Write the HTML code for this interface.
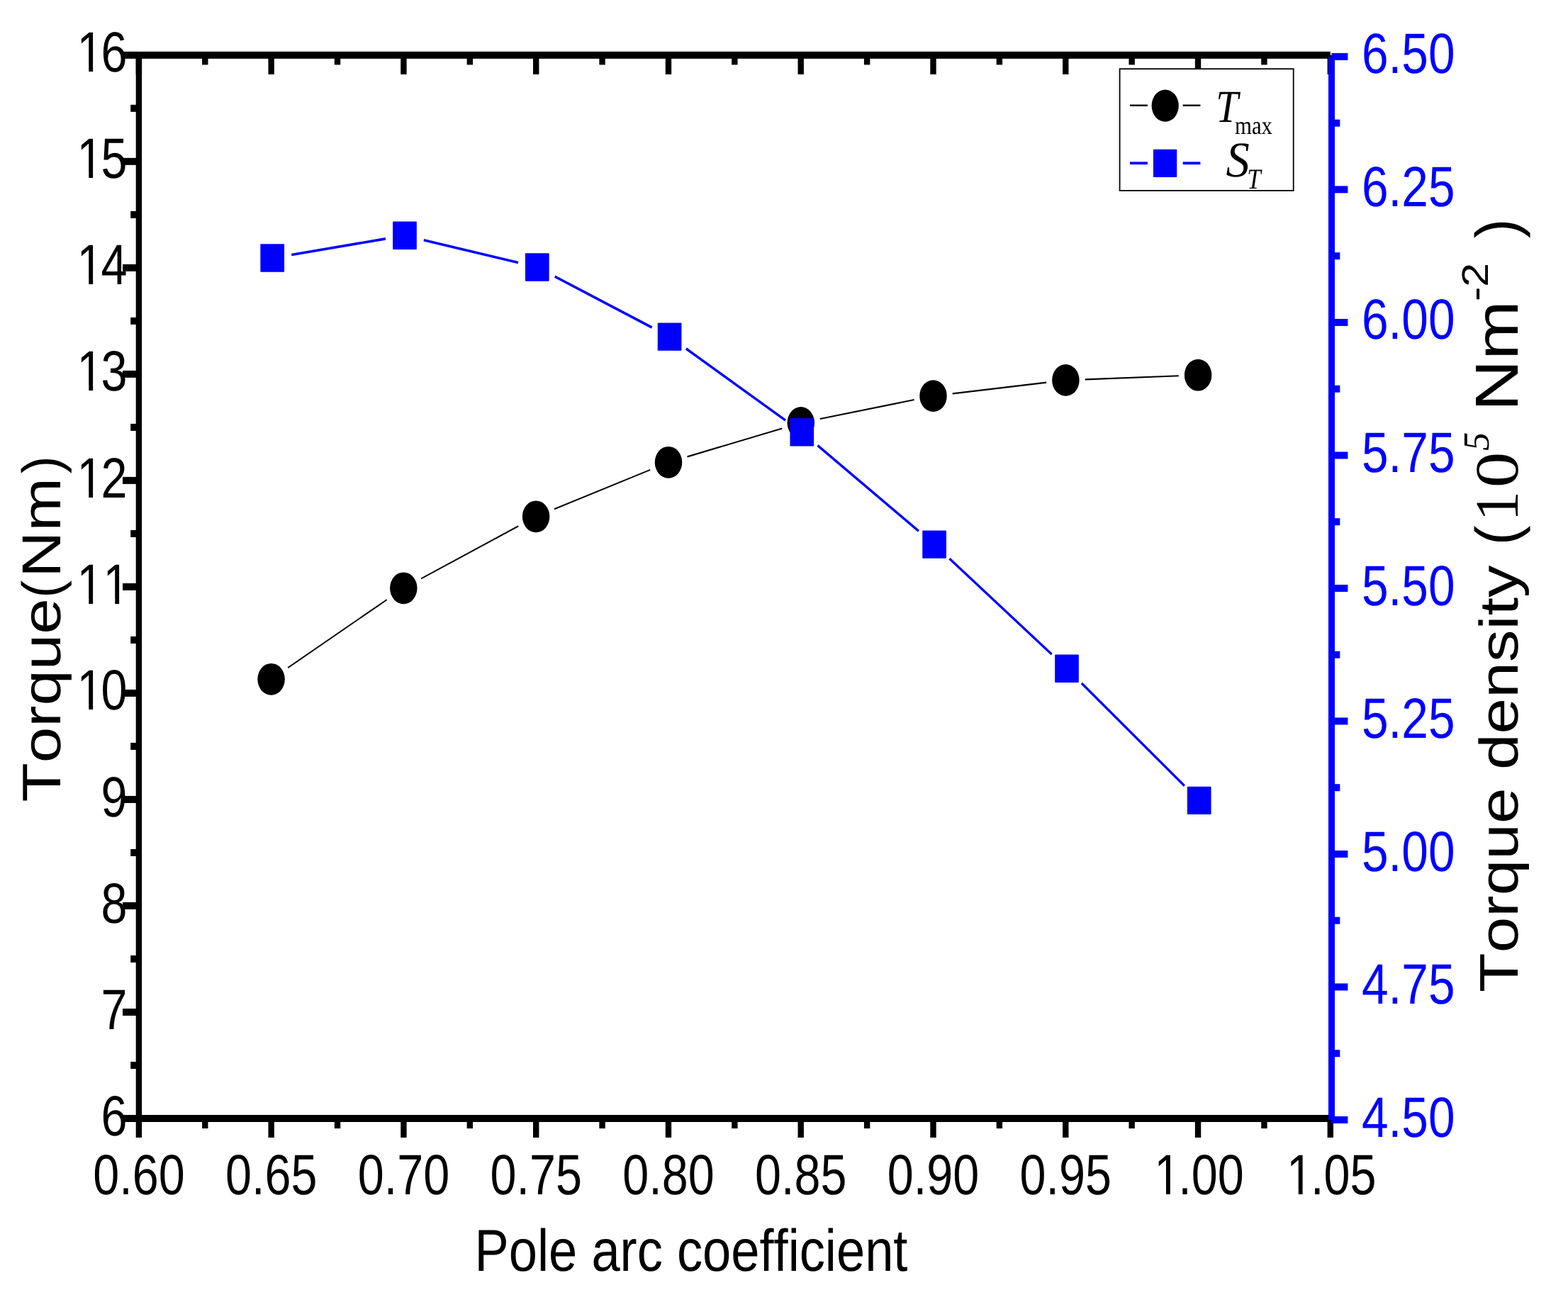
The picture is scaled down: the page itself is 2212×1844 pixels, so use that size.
<!DOCTYPE html>
<html lang="en">
<head>
<meta charset="utf-8">
<title>Torque and torque density versus pole arc coefficient</title>
<style>
html, body { margin: 0; padding: 0; background: #ffffff; }
body { width: 2212px; height: 1844px; overflow: hidden; }
svg { display: block; }
text { white-space: pre; font-kerning: none; font-variant-ligatures: none; text-rendering: geometricPrecision; }
</style>
</head>
<body>
<svg width="2212" height="1844" viewBox="0 0 2212 1844" role="img" aria-label="Torque and torque density versus pole arc coefficient">
<rect x="0" y="0" width="2212" height="1844" fill="#ffffff"/>
<defs>
<clipPath id="one0" clipPathUnits="userSpaceOnUse"><rect x="-10" y="-100" width="410" height="93.4"/><rect x="-10" y="-7.6" width="17.65" height="47.6"/><rect x="23.73" y="-7.6" width="7.09" height="47.6"/><rect x="46.27" y="-7.6" width="353.73" height="47.6"/></clipPath>
<clipPath id="one1" clipPathUnits="userSpaceOnUse"><rect x="-10" y="-100" width="410" height="93.4"/><rect x="-10" y="-7.6" width="17.65" height="47.6"/><rect x="23.73" y="-7.6" width="7.09" height="47.6"/><rect x="46.27" y="-7.6" width="6.04" height="47.6"/><rect x="68.39" y="-7.6" width="7.09" height="47.6"/><rect x="90.93" y="-7.6" width="309.07" height="47.6"/></clipPath>
</defs>
<g id="frame">
<rect x="195.9" y="72.8" width="1680.9" height="10" fill="#000"/>
<rect x="195.9" y="1573" width="1680.9" height="10" fill="#000"/>
<rect x="191.7" y="77.8" width="8.4" height="1500.2" fill="#000"/>
<rect x="191.7" y="77.8" width="8.4" height="27.1" fill="#000"/>
<rect x="191.7" y="1578" width="8.4" height="27" fill="#000"/>
<rect x="285.08" y="77.8" width="8.4" height="13.6" fill="#000"/>
<rect x="285.08" y="1578" width="8.4" height="14.1" fill="#000"/>
<rect x="378.47" y="77.8" width="8.4" height="27.1" fill="#000"/>
<rect x="378.47" y="1578" width="8.4" height="27" fill="#000"/>
<rect x="471.85" y="77.8" width="8.4" height="13.6" fill="#000"/>
<rect x="471.85" y="1578" width="8.4" height="14.1" fill="#000"/>
<rect x="565.23" y="77.8" width="8.4" height="27.1" fill="#000"/>
<rect x="565.23" y="1578" width="8.4" height="27" fill="#000"/>
<rect x="658.62" y="77.8" width="8.4" height="13.6" fill="#000"/>
<rect x="658.62" y="1578" width="8.4" height="14.1" fill="#000"/>
<rect x="752" y="77.8" width="8.4" height="27.1" fill="#000"/>
<rect x="752" y="1578" width="8.4" height="27" fill="#000"/>
<rect x="845.38" y="77.8" width="8.4" height="13.6" fill="#000"/>
<rect x="845.38" y="1578" width="8.4" height="14.1" fill="#000"/>
<rect x="938.77" y="77.8" width="8.4" height="27.1" fill="#000"/>
<rect x="938.77" y="1578" width="8.4" height="27" fill="#000"/>
<rect x="1032.15" y="77.8" width="8.4" height="13.6" fill="#000"/>
<rect x="1032.15" y="1578" width="8.4" height="14.1" fill="#000"/>
<rect x="1125.53" y="77.8" width="8.4" height="27.1" fill="#000"/>
<rect x="1125.53" y="1578" width="8.4" height="27" fill="#000"/>
<rect x="1218.92" y="77.8" width="8.4" height="13.6" fill="#000"/>
<rect x="1218.92" y="1578" width="8.4" height="14.1" fill="#000"/>
<rect x="1312.3" y="77.8" width="8.4" height="27.1" fill="#000"/>
<rect x="1312.3" y="1578" width="8.4" height="27" fill="#000"/>
<rect x="1405.68" y="77.8" width="8.4" height="13.6" fill="#000"/>
<rect x="1405.68" y="1578" width="8.4" height="14.1" fill="#000"/>
<rect x="1499.07" y="77.8" width="8.4" height="27.1" fill="#000"/>
<rect x="1499.07" y="1578" width="8.4" height="27" fill="#000"/>
<rect x="1592.45" y="77.8" width="8.4" height="13.6" fill="#000"/>
<rect x="1592.45" y="1578" width="8.4" height="14.1" fill="#000"/>
<rect x="1685.83" y="77.8" width="8.4" height="27.1" fill="#000"/>
<rect x="1685.83" y="1578" width="8.4" height="27" fill="#000"/>
<rect x="1779.22" y="77.8" width="8.4" height="13.6" fill="#000"/>
<rect x="1779.22" y="1578" width="8.4" height="14.1" fill="#000"/>
<rect x="1872.6" y="77.8" width="8.4" height="27.1" fill="#000"/>
<rect x="1872.6" y="1578" width="8.4" height="27" fill="#000"/>
<rect x="173" y="72.8" width="22.9" height="10" fill="#000"/>
<rect x="184.2" y="147.81" width="11.7" height="10" fill="#000"/>
<rect x="173" y="222.82" width="22.9" height="10" fill="#000"/>
<rect x="184.2" y="297.83" width="11.7" height="10" fill="#000"/>
<rect x="173" y="372.84" width="22.9" height="10" fill="#000"/>
<rect x="184.2" y="447.85" width="11.7" height="10" fill="#000"/>
<rect x="173" y="522.86" width="22.9" height="10" fill="#000"/>
<rect x="184.2" y="597.87" width="11.7" height="10" fill="#000"/>
<rect x="173" y="672.88" width="22.9" height="10" fill="#000"/>
<rect x="184.2" y="747.89" width="11.7" height="10" fill="#000"/>
<rect x="173" y="822.9" width="22.9" height="10" fill="#000"/>
<rect x="184.2" y="897.91" width="11.7" height="10" fill="#000"/>
<rect x="173" y="972.92" width="22.9" height="10" fill="#000"/>
<rect x="184.2" y="1047.93" width="11.7" height="10" fill="#000"/>
<rect x="173" y="1122.94" width="22.9" height="10" fill="#000"/>
<rect x="184.2" y="1197.95" width="11.7" height="10" fill="#000"/>
<rect x="173" y="1272.96" width="22.9" height="10" fill="#000"/>
<rect x="184.2" y="1347.97" width="11.7" height="10" fill="#000"/>
<rect x="173" y="1422.98" width="22.9" height="10" fill="#000"/>
<rect x="184.2" y="1497.99" width="11.7" height="10" fill="#000"/>
<rect x="173" y="1573" width="22.9" height="10" fill="#000"/>
</g>
<g id="left-tick-labels">
<text transform="translate(105.63,101) scale(0.8281,1)" font-family="'Liberation Sans', Arial, sans-serif" font-size="80.3" fill="#000" dx="3.53 -3.53" clip-path="url(#one0)">16</text>
<text transform="translate(105.63,250.92) scale(0.8281,1)" font-family="'Liberation Sans', Arial, sans-serif" font-size="80.3" fill="#000" dx="3.53 -3.53" clip-path="url(#one0)">15</text>
<text transform="translate(105.63,401.04) scale(0.8281,1)" font-family="'Liberation Sans', Arial, sans-serif" font-size="80.3" fill="#000" dx="3.53 -3.53" clip-path="url(#one0)">14</text>
<text transform="translate(105.63,550.96) scale(0.8281,1)" font-family="'Liberation Sans', Arial, sans-serif" font-size="80.3" fill="#000" dx="3.53 -3.53" clip-path="url(#one0)">13</text>
<text transform="translate(105.63,701.78) scale(0.8281,1)" font-family="'Liberation Sans', Arial, sans-serif" font-size="80.3" fill="#000" dx="3.53 -3.53" clip-path="url(#one0)">12</text>
<text transform="translate(105.63,851.7) scale(0.8281,1)" font-family="'Liberation Sans', Arial, sans-serif" font-size="80.3" fill="#000" dx="3.53 0" clip-path="url(#one1)">11</text>
<text transform="translate(105.63,1001.02) scale(0.8281,1)" font-family="'Liberation Sans', Arial, sans-serif" font-size="80.3" fill="#000" dx="3.53 -3.53" clip-path="url(#one0)">10</text>
<text transform="translate(142.62,1152.14) scale(0.8281,1)" font-family="'Liberation Sans', Arial, sans-serif" font-size="80.3" fill="#000">9</text>
<text transform="translate(142.62,1301.76) scale(0.8281,1)" font-family="'Liberation Sans', Arial, sans-serif" font-size="80.3" fill="#000">8</text>
<text transform="translate(142.62,1451.78) scale(0.8281,1)" font-family="'Liberation Sans', Arial, sans-serif" font-size="80.3" fill="#000">7</text>
<text transform="translate(142.62,1601.9) scale(0.8281,1)" font-family="'Liberation Sans', Arial, sans-serif" font-size="80.3" fill="#000">6</text>
</g>
<g id="bottom-tick-labels">
<text transform="translate(131.19,1684.8) scale(0.8281,1)" font-family="'Liberation Sans', Arial, sans-serif" font-size="80.3" fill="#000">0.60</text>
<text transform="translate(317.95,1684.8) scale(0.8281,1)" font-family="'Liberation Sans', Arial, sans-serif" font-size="80.3" fill="#000">0.65</text>
<text transform="translate(504.72,1684.8) scale(0.8281,1)" font-family="'Liberation Sans', Arial, sans-serif" font-size="80.3" fill="#000">0.70</text>
<text transform="translate(691.49,1684.8) scale(0.8281,1)" font-family="'Liberation Sans', Arial, sans-serif" font-size="80.3" fill="#000">0.75</text>
<text transform="translate(878.25,1684.8) scale(0.8281,1)" font-family="'Liberation Sans', Arial, sans-serif" font-size="80.3" fill="#000">0.80</text>
<text transform="translate(1065.02,1684.8) scale(0.8281,1)" font-family="'Liberation Sans', Arial, sans-serif" font-size="80.3" fill="#000">0.85</text>
<text transform="translate(1251.79,1684.8) scale(0.8281,1)" font-family="'Liberation Sans', Arial, sans-serif" font-size="80.3" fill="#000">0.90</text>
<text transform="translate(1438.55,1684.8) scale(0.8281,1)" font-family="'Liberation Sans', Arial, sans-serif" font-size="80.3" fill="#000">0.95</text>
<text transform="translate(1625.32,1684.8) scale(0.8281,1)" font-family="'Liberation Sans', Arial, sans-serif" font-size="80.3" fill="#000" dx="3.53 -3.53 0 0" clip-path="url(#one0)">1.00</text>
<text transform="translate(1812.09,1684.8) scale(0.8281,1)" font-family="'Liberation Sans', Arial, sans-serif" font-size="80.3" fill="#000" dx="3.53 -3.53 0 0" clip-path="url(#one0)">1.05</text>
</g>
<g id="right-tick-labels">
<text transform="translate(1921,103) scale(0.8418,1)" font-family="'Liberation Sans', Arial, sans-serif" font-size="80.3" fill="#0000ff">6.50</text>
<text transform="translate(1921,290.76) scale(0.8418,1)" font-family="'Liberation Sans', Arial, sans-serif" font-size="80.3" fill="#0000ff">6.25</text>
<text transform="translate(1921,478.22) scale(0.8418,1)" font-family="'Liberation Sans', Arial, sans-serif" font-size="80.3" fill="#0000ff">6.00</text>
<text transform="translate(1921,666.14) scale(0.8418,1)" font-family="'Liberation Sans', Arial, sans-serif" font-size="80.3" fill="#0000ff">5.75</text>
<text transform="translate(1921,853.95) scale(0.8418,1)" font-family="'Liberation Sans', Arial, sans-serif" font-size="80.3" fill="#0000ff">5.50</text>
<text transform="translate(1921,1040.76) scale(0.8418,1)" font-family="'Liberation Sans', Arial, sans-serif" font-size="80.3" fill="#0000ff">5.25</text>
<text transform="translate(1921,1228.77) scale(0.8418,1)" font-family="'Liberation Sans', Arial, sans-serif" font-size="80.3" fill="#0000ff">5.00</text>
<text transform="translate(1921,1415.69) scale(0.8418,1)" font-family="'Liberation Sans', Arial, sans-serif" font-size="80.3" fill="#0000ff">4.75</text>
<text transform="translate(1921,1603.8) scale(0.8418,1)" font-family="'Liberation Sans', Arial, sans-serif" font-size="80.3" fill="#0000ff">4.50</text>
</g>
<g id="titles">
<text id="x-title" transform="translate(669.58,1792.9) scale(0.8659,1)" font-family="'Liberation Sans', Arial, sans-serif" font-size="83.5" fill="#000">Pole arc coefficient</text>
<text id="y-title-left" transform="translate(85.1,1131.6) scale(0.8435,1) rotate(-90)" font-family="'Liberation Sans', Arial, sans-serif" fill="#000" xml:space="preserve"><tspan x="0" y="0" font-size="90.7">Torque</tspan><tspan x="287.95" y="0" font-size="90.7" font-family="'Liberation Sans', Arial, sans-serif" font-style="normal" textLength="25.01" lengthAdjust="spacingAndGlyphs">(</tspan><tspan x="316.6" y="0" font-size="91.61" font-family="'Liberation Sans', Arial, sans-serif" font-style="normal" textLength="141.05" lengthAdjust="spacingAndGlyphs">Nm</tspan><tspan x="463.3" y="0" font-size="90.7" font-family="'Liberation Sans', Arial, sans-serif" font-style="normal" textLength="25.01" lengthAdjust="spacingAndGlyphs">)</tspan></text>
<text id="y-title-right" transform="translate(2141.1,1400) scale(0.8435,1) rotate(-90)" font-family="'Liberation Sans', Arial, sans-serif" fill="#000" xml:space="preserve"><tspan x="0" y="0" font-size="91.1">Torque density </tspan><tspan x="630.66" y="0" font-size="100.5" font-family="'Liberation Sans', Arial, sans-serif" font-style="normal" textLength="27.71" lengthAdjust="spacingAndGlyphs">(</tspan><tspan x="664.4" y="0" font-size="103.06" font-family="'Liberation Serif', 'Times New Roman', serif" font-style="normal" textLength="42.5" lengthAdjust="spacingAndGlyphs">1</tspan><tspan x="711.95" y="0" font-size="103.06" font-family="'Liberation Serif', 'Times New Roman', serif" font-style="normal" textLength="50.25" lengthAdjust="spacingAndGlyphs">0</tspan><tspan x="764.2" y="-49.2" font-size="61.65" font-family="'Liberation Serif', 'Times New Roman', serif" font-style="italic" textLength="26" lengthAdjust="spacingAndGlyphs">5</tspan><tspan x="791.78" y="0" font-size="101.5" font-family="'Liberation Sans', Arial, sans-serif" font-style="normal" textLength="184.22" lengthAdjust="spacingAndGlyphs"> Nm</tspan><tspan x="975" y="-49.79" font-size="62.27" font-family="'Liberation Sans', Arial, sans-serif" font-style="normal" textLength="54.24" lengthAdjust="spacingAndGlyphs">-2</tspan><tspan x="1040.66" y="0" font-size="100.5" font-family="'Liberation Sans', Arial, sans-serif" font-style="normal" textLength="50.83" lengthAdjust="spacingAndGlyphs"> )</tspan></text>
</g>
<g id="series-tmax" transform="scale(0.855,1)" fill="#000" stroke="#000">
<line x1="475.06" y1="942.07" x2="638.27" y2="846.03" stroke-width="2.1"/>
<line x1="694.89" y1="816.37" x2="855.28" y2="742.23" stroke-width="2.1"/>
<line x1="914.53" y1="718.23" x2="1072.72" y2="662.87" stroke-width="2.1"/>
<line x1="1133.93" y1="644.38" x2="1290.4" y2="604.42" stroke-width="2.1"/>
<line x1="1352.93" y1="591.03" x2="1508.24" y2="564.07" stroke-width="2.1"/>
<line x1="1571.6" y1="555.37" x2="1726.53" y2="539.63" stroke-width="2.1"/>
<line x1="1790.35" y1="535.35" x2="1944.74" y2="530.25" stroke-width="2.1"/>
<ellipse cx="447.49" cy="958.3" rx="22.51" ry="22.4" stroke="none"/>
<ellipse cx="665.85" cy="829.8" rx="22.51" ry="22.4" stroke="none"/>
<ellipse cx="884.33" cy="728.8" rx="22.51" ry="22.4" stroke="none"/>
<ellipse cx="1102.92" cy="652.3" rx="22.51" ry="22.4" stroke="none"/>
<ellipse cx="1321.4" cy="596.5" rx="22.51" ry="22.4" stroke="none"/>
<ellipse cx="1539.77" cy="558.6" rx="22.51" ry="22.4" stroke="none"/>
<ellipse cx="1758.36" cy="536.4" rx="22.51" ry="22.4" stroke="none"/>
<ellipse cx="1976.73" cy="529.2" rx="22.51" ry="22.4" stroke="none"/>
</g>
<g id="right-axis">
<rect x="1874" y="79.9" width="9" height="1500.1" fill="#0000ff"/>
<rect x="1878.5" y="74.9" width="22.9" height="10" fill="#0000ff"/>
<rect x="1878.5" y="168.66" width="11.8" height="10" fill="#0000ff"/>
<rect x="1878.5" y="262.41" width="22.9" height="10" fill="#0000ff"/>
<rect x="1878.5" y="356.17" width="11.8" height="10" fill="#0000ff"/>
<rect x="1878.5" y="449.92" width="22.9" height="10" fill="#0000ff"/>
<rect x="1878.5" y="543.68" width="11.8" height="10" fill="#0000ff"/>
<rect x="1878.5" y="637.44" width="22.9" height="10" fill="#0000ff"/>
<rect x="1878.5" y="731.19" width="11.8" height="10" fill="#0000ff"/>
<rect x="1878.5" y="824.95" width="22.9" height="10" fill="#0000ff"/>
<rect x="1878.5" y="918.71" width="11.8" height="10" fill="#0000ff"/>
<rect x="1878.5" y="1012.46" width="22.9" height="10" fill="#0000ff"/>
<rect x="1878.5" y="1106.22" width="11.8" height="10" fill="#0000ff"/>
<rect x="1878.5" y="1199.97" width="22.9" height="10" fill="#0000ff"/>
<rect x="1878.5" y="1293.73" width="11.8" height="10" fill="#0000ff"/>
<rect x="1878.5" y="1387.49" width="22.9" height="10" fill="#0000ff"/>
<rect x="1878.5" y="1481.24" width="11.8" height="10" fill="#0000ff"/>
<rect x="1878.5" y="1575" width="22.9" height="10" fill="#0000ff"/>
</g>
<g id="series-st" transform="scale(0.855,1)" fill="#0000ff" stroke="#0000ff">
<line x1="481.03" y1="359.41" x2="636.17" y2="336.89" stroke-width="3.6"/>
<line x1="699.19" y1="338.71" x2="854.97" y2="370.59" stroke-width="3.6"/>
<line x1="915.51" y1="390.11" x2="1075.6" y2="461.99" stroke-width="3.6"/>
<line x1="1132.03" y1="491.9" x2="1295.92" y2="593" stroke-width="3.6"/>
<line x1="1349.07" y1="628.58" x2="1515.72" y2="749.32" stroke-width="3.6"/>
<line x1="1566.61" y1="788.11" x2="1735.26" y2="923.19" stroke-width="3.6"/>
<line x1="1784.58" y1="963.96" x2="1954.25" y2="1108.64" stroke-width="3.6"/>
<rect x="429.65" y="344.3" width="39.42" height="39.4" rx="1" stroke="none"/>
<rect x="648.13" y="312.6" width="39.42" height="39.4" rx="1" stroke="none"/>
<rect x="866.61" y="357.3" width="39.42" height="39.4" rx="1" stroke="none"/>
<rect x="1085.09" y="455.4" width="39.42" height="39.4" rx="1" stroke="none"/>
<rect x="1303.45" y="590.1" width="39.42" height="39.4" rx="1" stroke="none"/>
<rect x="1521.93" y="748.4" width="39.42" height="39.4" rx="1" stroke="none"/>
<rect x="1740.53" y="923.5" width="39.42" height="39.4" rx="1" stroke="none"/>
<rect x="1958.89" y="1109.7" width="39.42" height="39.4" rx="1" stroke="none"/>
</g>
<g id="legend">
<rect x="1579.6" y="97.2" width="245.1" height="171.7" fill="#fff" stroke="#000" stroke-width="1.8"/>
<g transform="scale(0.855,1)">
<line x1="1864.33" y1="148.7" x2="1893.45" y2="148.7" stroke="#000" stroke-width="2.4"/>
<line x1="1951.7" y1="148.7" x2="1980.58" y2="148.7" stroke="#000" stroke-width="2.4"/>
<ellipse cx="1922.46" cy="149.1" rx="22.34" ry="22.7"/>
<line x1="1864.33" y1="230.2" x2="1893.45" y2="230.2" stroke="#0000ff" stroke-width="3.8"/>
<line x1="1951.7" y1="230.2" x2="1980.58" y2="230.2" stroke="#0000ff" stroke-width="3.8"/>
<rect x="1902.87" y="210.65" width="38.95" height="39.3" rx="1" fill="#0000ff"/>
</g>
<text id="legend-tmax" transform="translate(1715.5,172.4) scale(0.855,1)" font-family="'Liberation Sans', Arial, sans-serif" fill="#000" xml:space="preserve"><tspan x="-0.23" y="-0.1" font-size="64.6" font-family="'Liberation Serif', 'Times New Roman', serif" font-style="italic" textLength="36.87" lengthAdjust="spacingAndGlyphs">T</tspan><tspan x="30.99" y="16.5" font-size="36" font-family="'Liberation Serif', 'Times New Roman', serif" font-style="normal">max</tspan></text>
<text id="legend-st" transform="translate(1729.4,249) scale(0.855,1)" font-family="'Liberation Sans', Arial, sans-serif" fill="#000" xml:space="preserve"><tspan x="0.23" y="-0.5" font-size="70.8" font-family="'Liberation Serif', 'Times New Roman', serif" font-style="italic" textLength="38.95" lengthAdjust="spacingAndGlyphs">S</tspan><tspan x="34.97" y="17" font-size="40.6" font-family="'Liberation Serif', 'Times New Roman', serif" font-style="italic">T</tspan></text>
</g>
</svg>
</body>
</html>
